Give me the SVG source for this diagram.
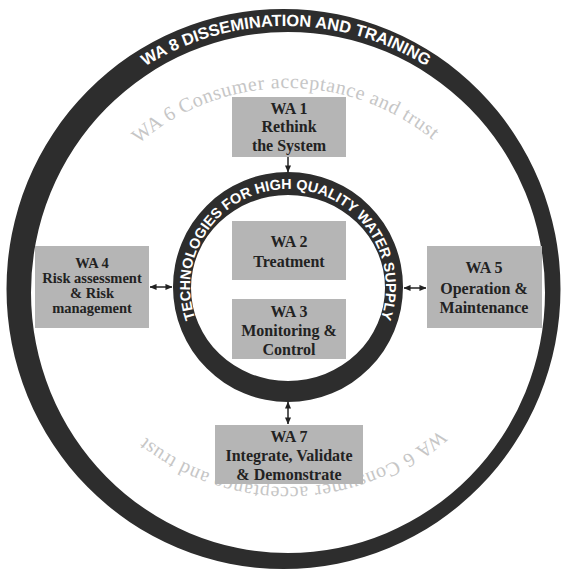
<svg xmlns="http://www.w3.org/2000/svg" width="563" height="571" viewBox="0 0 563 571">
<style>
.ring{fill:#2d2d2d;fill-rule:evenodd}
.box{fill:#b5b5b5}
.bt{font-family:"Liberation Serif","Times New Roman",serif;font-weight:bold;font-size:16px;fill:#222;text-anchor:middle}
.bt.s{font-size:14.5px}
.rt{font-family:"Liberation Sans",Arial,sans-serif;font-weight:bold;fill:#fff;text-anchor:middle}
.gt{font-family:"Liberation Serif","Times New Roman",serif;font-size:20px;fill:#c6c6c6;letter-spacing:0.6px;text-anchor:middle}
.con{stroke:#222;stroke-width:1.5;fill:none}
</style>
<defs>
<marker id="ah" viewBox="0 0 8 8" refX="7.5" refY="4" markerWidth="7" markerHeight="7" markerUnits="userSpaceOnUse" orient="auto-start-reverse">
<path d="M0,0.5 L8,4 L0,7.5 Z" fill="#222"/>
</marker>
<path id="pOuter" d="M 21 291 A 265 265 0 0 1 551 291"/>
<path id="pInner" d="M 288 385 A 98 98 0 0 1 288 189 A 98 98 0 0 1 288 385"/>
<path id="pGrayTop" d="M 288 542 A 227 227 0 0 1 288 88 A 227 227 0 0 1 288 542"/>
<path id="pGrayBot" d="M 288 29 A 229 229 0 0 1 288 487 A 229 229 0 0 1 288 29"/>
</defs>
<rect width="563" height="571" fill="#fff"/>

<g id="wa8">
<path class="ring" d="M 6.5 289 A 277 280 0 1 0 560.5 289 A 277 280 0 1 0 6.5 289 Z M 31 292.5 A 257 260.5 0 1 0 545 292.5 A 257 260.5 0 1 0 31 292.5 Z"/>
<text class="rt" font-size="16.4"><textPath href="#pOuter" startOffset="50%">WA 8 DISSEMINATION AND TRAINING</textPath></text>
</g>

<g id="wa6">
<text class="gt"><textPath href="#pGrayTop" startOffset="49.8%">WA 6 Consumer acceptance and trust</textPath></text>
<text class="gt"><textPath href="#pGrayBot" startOffset="49.6%">WA 6 Consumer acceptance and trust</textPath></text>
</g>

<g id="core">
<path class="ring" d="M 173 287 A 115 115 0 1 0 403 287 A 115 115 0 1 0 173 287 Z M 191 288 A 97 93 0 1 0 385 288 A 97 93 0 1 0 191 288 Z"/>
<text class="rt" font-size="14.4"><textPath href="#pInner" startOffset="50%">TECHNOLOGIES FOR HIGH QUALITY WATER SUPPLY</textPath></text>
</g>

<g id="wa1">
<rect class="box" x="232" y="97" width="114" height="60"/>
<text class="bt" x="289" y="114">WA 1</text>
<text class="bt" x="289" y="132">Rethink</text>
<text class="bt" x="289" y="151">the System</text>
</g>

<g id="wa2">
<rect class="box" x="232" y="221" width="114" height="59"/>
<text class="bt" x="289" y="247">WA 2</text>
<text class="bt" x="289" y="267">Treatment</text>
</g>

<g id="wa3">
<rect class="box" x="232" y="299" width="114" height="60"/>
<text class="bt" x="289" y="317">WA 3</text>
<text class="bt" x="289" y="336">Monitoring &amp;</text>
<text class="bt" x="289" y="355">Control</text>
</g>

<g id="wa4">
<rect class="box" x="35" y="246" width="114" height="82"/>
<text class="bt s" x="92" y="268">WA 4</text>
<text class="bt s" x="92" y="283">Risk assessment</text>
<text class="bt s" x="92" y="298">&amp; Risk</text>
<text class="bt s" x="92" y="313">management</text>
</g>

<g id="wa5">
<rect class="box" x="427" y="246" width="115" height="82"/>
<text class="bt" x="484" y="273">WA 5</text>
<text class="bt" x="484" y="294">Operation &amp;</text>
<text class="bt" x="484" y="313">Maintenance</text>
</g>

<g id="wa7">
<rect class="box" x="215" y="425" width="148" height="59"/>
<text class="bt" x="289" y="442">WA 7</text>
<text class="bt" x="289" y="461">Integrate, Validate</text>
<text class="bt" x="289" y="480">&amp; Demonstrate</text>
</g>

<g id="connectors">
<line class="con" x1="288" y1="157" x2="288" y2="172" marker-end="url(#ah)"/>
<line class="con" x1="150" y1="287" x2="172" y2="287" marker-start="url(#ah)" marker-end="url(#ah)"/>
<line class="con" x1="404" y1="288" x2="426" y2="288" marker-start="url(#ah)" marker-end="url(#ah)"/>
<line class="con" x1="288" y1="402" x2="288" y2="424" marker-start="url(#ah)" marker-end="url(#ah)"/>
</g>
</svg>
